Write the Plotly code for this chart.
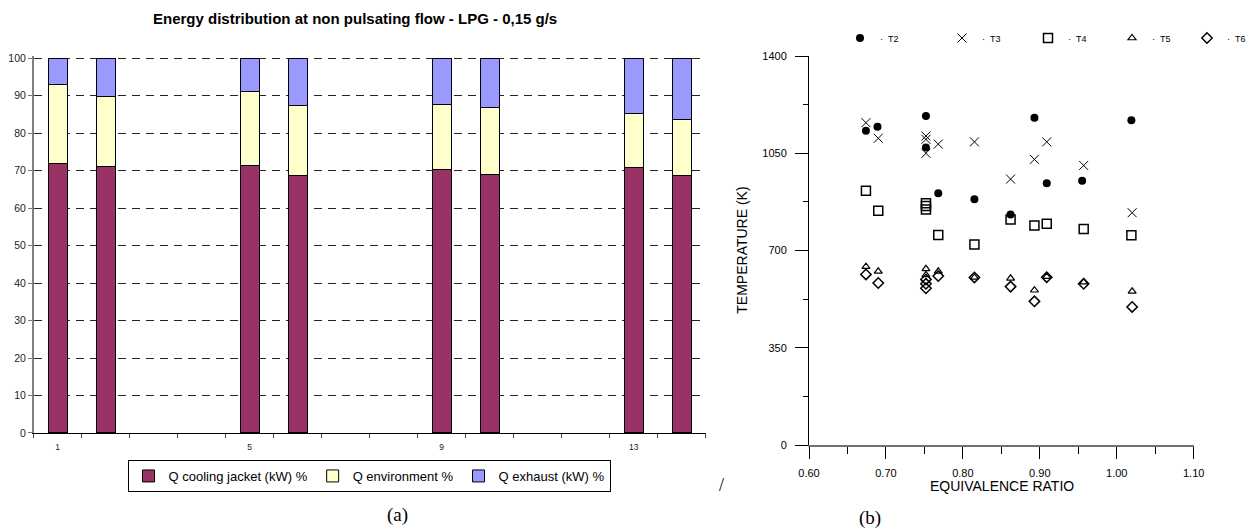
import plotly.graph_objects as go

# ---------------- data: panel (a) ----------------
run_ids = [1, 2, 5, 6, 9, 10, 13, 14]
q_cooling_jacket = [72.0, 71.2, 71.4, 68.8, 70.2, 69.1, 70.9, 68.8]
q_environment = [20.9, 18.5, 19.8, 18.5, 17.5, 17.8, 14.5, 14.8]
q_exhaust = [7.1, 10.3, 8.8, 12.7, 12.3, 13.1, 14.6, 16.4]
x_tick_labels = ["1", "5", "9", "13"]

# ---------------- data: panel (b) ----------------
t2_phi = [0.674, 0.689, 0.752, 0.752, 0.768, 0.815, 0.862, 0.893, 0.909, 0.955, 1.019]
t2_temp = [1131, 1145, 1184, 1071, 906, 884, 830, 1178, 942, 951, 1169]
t3_phi = [0.674, 0.690, 0.752, 0.752, 0.752, 0.768, 0.815, 0.862, 0.893, 0.909, 0.957, 1.020]
t3_temp = [1160, 1104, 1112, 1100, 1050, 1083, 1091, 957, 1028, 1091, 1006, 836]
t4_phi = [0.674, 0.690, 0.752, 0.752, 0.752, 0.768, 0.815, 0.862, 0.893, 0.909, 0.957, 1.019]
t4_temp = [915, 843, 870, 860, 848, 756, 722, 812, 790, 796, 777, 755]
t5_phi = [0.674, 0.690, 0.752, 0.752, 0.768, 0.815, 0.862, 0.893, 0.909, 0.957, 1.020]
t5_temp = [642, 625, 634, 612, 625, 603, 600, 557, 606, 586, 553]
t6_phi = [0.674, 0.690, 0.752, 0.752, 0.752, 0.768, 0.815, 0.862, 0.893, 0.909, 0.957, 1.020]
t6_temp = [614, 583, 596, 580, 564, 608, 603, 570, 517, 604, 580, 497]
temp_ticks = [0, 350, 700, 1050, 1400]

W, H = 1250, 530
SANS = "Arial, Liberation Sans, sans-serif"
SERIF = "Times New Roman, Liberation Serif, serif"


def px_x(p):
    return p / W


def px_y(p):
    return 1 - p / H


fig = go.Figure()

bar_specs = [
    ("Q cooling jacket (kW) %", q_cooling_jacket, "#993366"),
    ("Q environment %", q_environment, "#FFFFCC"),
    ("Q exhaust (kW) %", q_exhaust, "#9999FF"),
]
for name, vals, col in bar_specs:
    fig.add_trace(go.Bar(
        x=run_ids, y=vals, name=name, width=0.4,
        marker=dict(color=col, line=dict(color="black", width=1)),
        xaxis="x", yaxis="y", legend="legend",
    ))

scatter_specs = [
    ("T2", t2_phi, t2_temp, dict(symbol="circle", size=8, color="black"), "legend2", 860),
    ("T3", t3_phi, t3_temp, dict(symbol="x-thin-open", size=9, color="black",
                                 line=dict(color="black", width=1)), "legend3", 962),
    ("T4", t4_phi, t4_temp, dict(symbol="square-open", size=9, color="black",
                                 line=dict(color="black", width=1.5)), "legend4", 1048),
    ("T5", t5_phi, t5_temp, dict(symbol="triangle-up-open", size=7, color="black",
                                 line=dict(color="black", width=1.2)), "legend5", 1132),
    ("T6", t6_phi, t6_temp, dict(symbol="diamond-open", size=8, color="black",
                                 line=dict(color="black", width=1.5)), "legend6", 1207),
]
for name, xs, ys, mk, lg, _ in scatter_specs:
    fig.add_trace(go.Scatter(
        x=xs, y=ys, mode="markers", name="\u00b7\u00a0\u00a0" + name,
        marker=mk, xaxis="x2", yaxis="y2", legend=lg,
    ))

# left panel: value 0 at y=433 px, value 100 at y=58.3 px
Y0_PX, Y100_PX = 433.0, 58.3
Y_TOP_VAL = 100.5
y_top_px = Y0_PX - (Y0_PX - Y100_PX) * Y_TOP_VAL / 100.0


def ann(text, x, y, size, family, **kw):
    d = dict(text=text, x=px_x(x), y=px_y(y), xref="paper", yref="paper",
             xanchor="center", yanchor="middle", showarrow=False,
             font=dict(size=size, family=family, color="black"))
    d.update(kw)
    return d


layout = dict(
    width=W, height=H,
    margin=dict(l=0, r=0, t=0, b=0, autoexpand=False),
    paper_bgcolor="white", plot_bgcolor="white",
    barmode="stack",
    font=dict(family=SANS, color="black"),
    xaxis=dict(
        domain=[px_x(33.7), px_x(705.7)], range=[0.5, 14.5],
        tickmode="array", tickvals=[1, 5, 9, 13], ticktext=x_tick_labels,
        ticks="", showgrid=False, zeroline=False, automargin=False,
        showline=True, linecolor="black", linewidth=1,
        tickfont=dict(size=8.5, color="#222"), ticklabelstandoff=6,
        minor=dict(ticks="outside", tick0=0.5, dtick=1, ticklen=4,
                   tickcolor="#444", tickwidth=1, showgrid=False),
        anchor="y",
    ),
    yaxis=dict(
        domain=[px_y(Y0_PX), px_y(y_top_px)], range=[0, Y_TOP_VAL],
        tickmode="array", tickvals=list(range(0, 101, 10)),
        ticks="outside", ticklen=4, tickcolor="#777", automargin=False,
        showline=True, linecolor="#808080", linewidth=1.5,
        showgrid=True, gridcolor="#222", gridwidth=1, griddash="8px,6px",
        zeroline=False, tickfont=dict(size=10.5, color="#222"),
        anchor="x",
    ),
    xaxis2=dict(
        domain=[px_x(809), px_x(1193.7)], range=[0.6, 1.1],
        tickmode="array", tickvals=[0.6, 0.7, 0.8, 0.9, 1.0, 1.1], tickformat=".2f",
        ticks="outside", ticklen=12, tickcolor="black", tickwidth=1,
        minor=dict(ticks="outside", tickmode="array",
                   tickvals=[0.65, 0.75, 0.85, 0.95, 1.05], ticklen=7,
                   tickcolor="black", tickwidth=1, showgrid=False),
        showline=True, linecolor="#707070", linewidth=2, automargin=False,
        showgrid=False, zeroline=False, tickfont=dict(size=11),
        ticklabelstandoff=5,
        anchor="y2",
    ),
    yaxis2=dict(
        domain=[px_y(445), px_y(56)], range=[0, 1400],
        tickmode="array", tickvals=temp_ticks,
        ticks="outside", ticklen=13, tickcolor="black", tickwidth=1,
        minor=dict(ticks="outside", tickmode="array",
                   tickvals=[175, 525, 875, 1225], ticklen=5,
                   tickcolor="black", tickwidth=1, showgrid=False),
        showline=True, linecolor="black", linewidth=1, automargin=False,
        showgrid=False, zeroline=False, tickfont=dict(size=11),
        ticklabelstandoff=6,
        anchor="x2",
    ),
    legend=dict(
        orientation="h", x=px_x(369), xanchor="center", y=px_y(476), yanchor="middle",
        bordercolor="black", borderwidth=1, bgcolor="white",
        font=dict(size=13, family=SANS), traceorder="normal",
        itemclick=False, itemdoubleclick=False,
    ),
    annotations=[
        ann("<b>Energy distribution at non pulsating flow - LPG - 0,15 g/s</b>",
            355, 19, 15, SANS),
        ann("(a)", 397, 515, 19, SERIF),
        ann("(b)", 870, 518, 19, SERIF),
        ann("/", 721, 485, 18, SERIF),
        ann("EQUIVALENCE RATIO", 1001.5, 485.7, 14, SANS),
        ann("TEMPERATURE (K)", 741.7, 250, 14, SANS, textangle=-90),
    ],
)

for name, xs, ys, mk, lg, mx in scatter_specs:
    layout[lg] = dict(
        orientation="h", x=px_x(mx - 20), xanchor="left", y=px_y(38), yanchor="middle",
        bgcolor="rgba(0,0,0,0)", borderwidth=0, font=dict(size=9, family=SANS),
        itemclick=False, itemdoubleclick=False,
    )

fig.update_layout(**layout)
fig.write_html("out.html")
